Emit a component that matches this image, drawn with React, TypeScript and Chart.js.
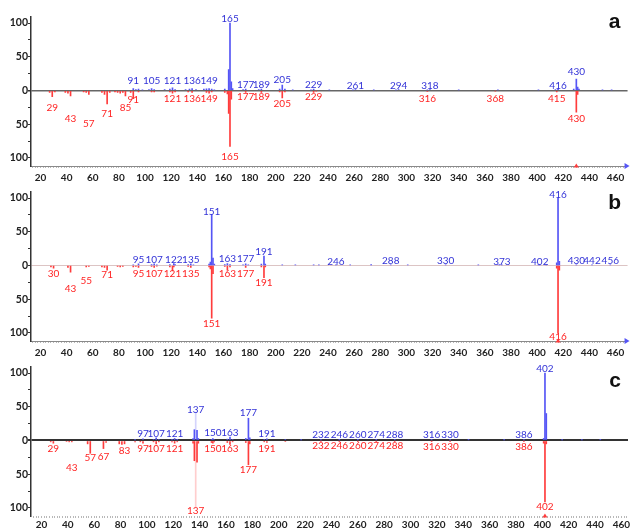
import { useEffect, useRef } from 'react';
import { Chart, registerables } from 'chart.js';
Chart.register(...registerables);

type P = [number, number];

// ---------- Panel a ----------
// library spectrum (blue, upward): [m/z, relative intensity]
const aLib: P[] = [
  [91, 3], [93, 1.5], [95, 2], [98, 1], [103, 1.5], [105, 3], [107, 1.5], [115, 1.5], [119, 2], [121, 4],
  [123, 1.5], [131, 1.5], [134, 2], [136, 3], [139, 1.5], [145, 2], [147, 2.5], [149, 3], [151, 2], [153, 1],
  [161, 2], [164, 31], [165, 100], [166, 13], [167, 3], [175, 1.5], [177, 2], [187, 1.5], [189, 2], [203, 2],
  [205, 8], [207, 2], [213, 1], [227, 1], [229, 2], [241, 1], [259, 1], [261, 1.5], [275, 1], [292, 1],
  [294, 1.5], [316, 1], [318, 1.5], [340, 1], [370, 1], [401, 1], [414, 1.5], [416, 2], [428, 2], [430, 17],
  [431, 5], [432, 2], [450, 1], [457, 1],
];
// measured spectrum (red, downward): [m/z, relative intensity]
const aExp: P[] = [
  [27, 3], [29, 9], [31, 2], [39, 3], [41, 4], [43, 8], [53, 2], [55, 3], [57, 6], [67, 3],
  [69, 6], [71, 20], [73, 3], [77, 2], [79, 3], [81, 4], [83, 3], [85, 8], [89, 3], [91, 12],
  [95, 2], [105, 2], [107, 2], [119, 2], [121, 4], [123, 2], [133, 2], [136, 3], [147, 3], [149, 4],
  [151, 2], [161, 3], [163, 5], [164, 34], [165, 83], [166, 13], [177, 3], [189, 3], [203, 2], [205, 11],
  [207, 2], [229, 3], [231, 1], [316, 1.5], [368, 1], [415, 2], [430, 32], [431, 6],
];
const aLibLabels: P[] = [
  [91, 14.5], [105, 14.5], [121, 15], [136, 14], [149, 14.5], [165, 106], [177, 8], [189, 8], [205, 16.5],
  [229, 8], [261, 7], [294, 7], [318, 7.5], [416, 7], [430, 28],
];
const aExpLabels: P[] = [
  [29, 25], [43, 42], [57, 50], [71, 35], [85, 26], [91, 14], [121, 12.6], [136, 12.6], [149, 12.6],
  [165, 98], [177, 10], [189, 10], [205, 19], [229, 9], [316, 11.6], [368, 11.6], [415, 12.6], [430, 42],
];
const aMarker = 430;

// ---------- Panel b ----------
const bLib: P[] = [
  [91, 1], [95, 2.5], [105, 1.5], [107, 2.5], [109, 1], [119, 1.5], [122, 3], [123, 1.5], [133, 1.5], [135, 2.5],
  [137, 1], [149, 2], [150, 5], [151, 76], [152, 11], [153, 2], [161, 1.5], [163, 3], [165, 1.5], [175, 1],
  [177, 2.5], [179, 1], [189, 2], [191, 14], [192, 2], [205, 1], [215, 1], [229, 1], [233, 1], [246, 1],
  [257, 1], [273, 1.5], [288, 1], [301, 1], [330, 1], [355, 1], [371, 1.5], [373, 1], [401, 1], [402, 1.5],
  [407, 1], [415, 4], [416, 100], [417, 6], [430, 1], [442, 1], [456, 1],
];
const bExp: P[] = [
  [28, 2], [30, 4], [41, 3], [43, 10], [55, 2], [57, 1.5], [67, 2], [69, 3], [71, 7], [79, 1.5],
  [81, 2], [83, 1.5], [91, 2], [93, 1.5], [95, 3], [105, 1.5], [107, 3], [109, 1], [119, 2], [121, 8],
  [122, 2], [133, 1.5], [135, 3], [149, 2], [150, 5], [151, 78], [152, 12], [161, 1.5], [163, 7], [165, 2],
  [177, 3], [189, 2], [191, 18], [192, 2], [415, 4], [416, 100], [417, 7],
];
const bLibLabels: P[] = [
  [95, 8.5], [107, 8.5], [122, 8.5], [135, 8.5], [151, 79], [163, 10], [177, 10], [191, 21], [246, 6],
  [288, 6.5], [330, 6.5], [373, 6], [402, 6], [416, 105], [430, 6.5], [442, 6.5], [456, 6.5],
];
const bExpLabels: P[] = [
  [30, 12.5], [43, 35], [55, 22.5], [71, 14], [95, 11.6], [107, 11.6], [121, 11.6], [135, 11.6], [151, 86],
  [163, 12.5], [177, 12.5], [191, 25], [416, 106],
];
const bMarker = 416;

// ---------- Panel c ----------
const cLib: P[] = [
  [91, 1], [97, 2.5], [105, 1.5], [107, 4], [109, 1.5], [119, 1], [121, 3], [123, 1], [135, 3], [136, 16],
  [137, 42], [138, 15], [139, 3], [149, 1.5], [150, 3], [151, 1.5], [161, 2], [163, 5], [165, 1.5], [175, 3],
  [177, 33], [178, 4], [189, 1.5], [191, 2.5], [205, 1.5], [217, 1], [232, 1], [246, 1], [260, 1], [274, 1],
  [288, 1], [316, 1], [330, 1], [344, 1], [371, 1], [386, 1], [401, 3], [402, 100], [403, 40], [415, 1],
  [430, 1], [444, 1],
];
const cExp: P[] = [
  [27, 2], [29, 4], [39, 1.5], [41, 2], [43, 2], [55, 5], [57, 19], [67, 12], [69, 3], [79, 5],
  [81, 6], [83, 5], [91, 2], [95, 2], [97, 4], [105, 2], [107, 5], [109, 2], [119, 2], [121, 4],
  [123, 2], [135, 4], [136, 30], [137, 100], [138, 32], [139, 4], [149, 3], [150, 4], [151, 2], [161, 3],
  [163, 6], [165, 2], [175, 3], [177, 36], [178, 5], [189, 2], [191, 3], [205, 1.5], [232, 1], [246, 1],
  [260, 1], [274, 1], [288, 1], [316, 1], [330, 1], [386, 1], [401, 4], [402, 91], [403, 5],
];
const cLibLabels: P[] = [
  [97, 10], [107, 10], [121, 10], [137, 46], [150, 12], [163, 12], [177, 41], [191, 10], [232, 8.5],
  [246, 9], [260, 8.5], [274, 8.5], [288, 8.5], [316, 9], [330, 8.5], [386, 8.5], [402, 106],
];
const cExpLabels: P[] = [
  [29, 12.5], [43, 40], [57, 26], [67, 24], [83, 15], [97, 12.5], [107, 12.5], [121, 12.5], [137, 105],
  [150, 12.5], [163, 12.5], [177, 44], [191, 11.6], [232, 8], [246, 8], [260, 8], [274, 8], [288, 8],
  [316, 9], [330, 9], [386, 9], [402, 98],
];
const cMarker = 402;
const cFaint = [137];

// ---------- axes ----------
const yTickValues = [-100, -75, -50, -25, 0, 25, 50, 75, 100];
const xMajorStep = 20;
const xMinorStep = 2;

const BLUE_BAR = 'rgb(85,85,245)';
const RED_BAR = 'rgb(255,60,60)';
const BLUE_TXT = 'rgb(50,50,215)';
const RED_TXT = 'rgb(255,35,35)';
const FONT = 'Lato, "Open Sans", sans-serif';

type PanelProps = {
  lib: P[]; exp: P[]; libLabels: P[]; expLabels: P[]; marker: number; faint?: number[];
  letter: string; letterY: number; top: number; height: number; xMin: number; xMax: number;
  zeroColor: string; zeroWidth: number; xBorder: boolean; tickPad: number; arrow: boolean;
};

function Panel(p: PanelProps) {
  const ref = useRef<HTMLCanvasElement>(null);
  useEffect(() => {
    if (!ref.current) return;
    const faint = p.faint || [];
    const plugin = {
      id: 'peakLabels',
      afterDatasetsDraw(chart: any) {
        const { ctx, chartArea } = chart;
        const x = chart.scales.x;
        const y = chart.scales.y;
        ctx.save();
        ctx.font = `10px ${FONT}`;
        ctx.textAlign = 'center';
        ctx.textBaseline = 'middle';
        ctx.fillStyle = BLUE_TXT;
        p.libLabels.forEach(([mz, lv]) => ctx.fillText(String(mz), x.getPixelForValue(mz), y.getPixelForValue(lv)));
        ctx.fillStyle = RED_TXT;
        p.expLabels.forEach(([mz, lv]) => ctx.fillText(String(mz), x.getPixelForValue(mz), y.getPixelForValue(-lv)));
        // base peak marker on the axis
        const mx = x.getPixelForValue(p.marker);
        ctx.fillStyle = RED_BAR;
        ctx.beginPath();
        ctx.moveTo(mx - 2.5, chartArea.bottom + 1.5);
        ctx.lineTo(mx + 2.5, chartArea.bottom + 1.5);
        ctx.lineTo(mx, chartArea.bottom - 2.5);
        ctx.closePath();
        ctx.fill();
        if (p.arrow) {
          ctx.fillStyle = BLUE_BAR;
          ctx.beginPath();
          ctx.moveTo(chartArea.right - 3, chartArea.bottom - 3);
          ctx.lineTo(chartArea.right + 2, chartArea.bottom);
          ctx.lineTo(chartArea.right - 3, chartArea.bottom + 3);
          ctx.closePath();
          ctx.fill();
        }
        ctx.font = 'bold 21px "Liberation Sans", Arial, sans-serif';
        ctx.fillStyle = '#111';
        ctx.fillText(p.letter, chartArea.right - 13, p.letterY);
        ctx.restore();
      },
    };
    const H = p.height;
    const chart = new Chart(ref.current, {
      type: 'bar',
      data: {
        datasets: [
          {
            data: p.lib.map(([mz, v]) => ({ x: mz, y: v })),
            backgroundColor: (c: any) => (c.raw && faint.includes(c.raw.x) ? 'rgba(85,85,245,0.25)' : BLUE_BAR),
            barThickness: 1,
            borderWidth: 0,
            grouped: false,
          } as any,
          {
            data: p.exp.map(([mz, v]) => ({ x: mz, y: -v })),
            backgroundColor: (c: any) => (c.raw && faint.includes(c.raw.x) ? 'rgba(255,60,60,0.25)' : RED_BAR),
            barThickness: 1,
            borderWidth: 0,
            grouped: false,
          } as any,
        ],
      },
      options: {
        animation: false,
        responsive: false,
        maintainAspectRatio: false,
        devicePixelRatio: 1,
        events: [],
        layout: { padding: { top: 17, right: 2, left: 0, bottom: 0 } },
        plugins: { legend: { display: false }, tooltip: { enabled: false }, title: { display: false } },
        scales: {
          x: {
            type: 'linear',
            min: p.xMin,
            max: p.xMax,
            offset: false,
            afterBuildTicks: (s: any) => {
              const t = [];
              for (let v = Math.ceil(p.xMin / xMinorStep) * xMinorStep; v <= p.xMax; v += xMinorStep) t.push({ value: v });
              s.ticks = t;
            },
            afterFit: (s: any) => { s.height = H - 166; },
            ticks: {
              autoSkip: false,
              maxRotation: 0,
              padding: p.tickPad,
              color: '#222',
              font: { family: FONT, size: 10, weight: 'bold' },
              callback: (v: any) => (Number(v) % xMajorStep === 0 ? String(v) : ''),
            },
            grid: { offset: false, drawOnChartArea: false, drawTicks: true, tickLength: 2, color: '#b8b8b8', tickColor: '#b8b8b8' },
            border: { display: p.xBorder, color: '#8a8a8a', width: 1 },
          },
          y: {
            min: -112,
            max: 109,
            afterBuildTicks: (s: any) => { s.ticks = yTickValues.map((v) => ({ value: v })); },
            afterFit: (s: any) => { s.width = 31; },
            ticks: {
              padding: 0,
              color: '#222',
              font: { family: FONT, size: 10.5, weight: 'bold' },
              callback: (v: any) => (Number(v) % 50 === 0 ? String(Math.abs(Number(v))) : ''),
            },
            grid: {
              drawOnChartArea: true,
              drawTicks: true,
              tickLength: 3,
              tickColor: '#333',
              color: (c: any) => (c.tick && c.tick.value === 0 ? p.zeroColor : 'rgba(0,0,0,0)'),
              lineWidth: (c: any) => (c.tick && c.tick.value === 0 ? p.zeroWidth : 1),
            },
            border: { color: '#333', width: 1.5 },
          },
        },
      } as any,
      plugins: [plugin],
    });
    return () => chart.destroy();
  }, []);
  return (
    <canvas
      ref={ref}
      width={630}
      height={p.height}
      style={{ position: 'absolute', left: 0, top: p.top, width: 630, height: p.height }}
    />
  );
}

export default function App() {
  return (
    <div style={{ position: 'absolute', left: 0, top: 0, width: 630, height: 529, overflow: 'hidden', background: '#fff' }}>
      <Panel lib={aLib} exp={aExp} libLabels={aLibLabels} expLabels={aExpLabels} marker={aMarker}
        letter="a" letterY={22} top={0} height={190} xMin={12.74} xMax={469.2}
        zeroColor="#666" zeroWidth={1.5} xBorder={true} tickPad={4} arrow={true} />
      <Panel lib={bLib} exp={bExp} libLabels={bLibLabels} expLabels={bExpLabels} marker={bMarker}
        letter="b" letterY={28} top={175} height={190} xMin={12.74} xMax={469.2}
        zeroColor="#dcc4c4" zeroWidth={1} xBorder={true} tickPad={4} arrow={true} />
      <Panel lib={cLib} exp={cExp} libLabels={cLibLabels} expLabels={cExpLabels} marker={cMarker} faint={cFaint}
        letter="c" letterY={31} top={350} height={179} xMin={12.03} xMax={465}
        zeroColor="#333" zeroWidth={2} xBorder={false} tickPad={1} arrow={false} />
    </div>
  );
}
